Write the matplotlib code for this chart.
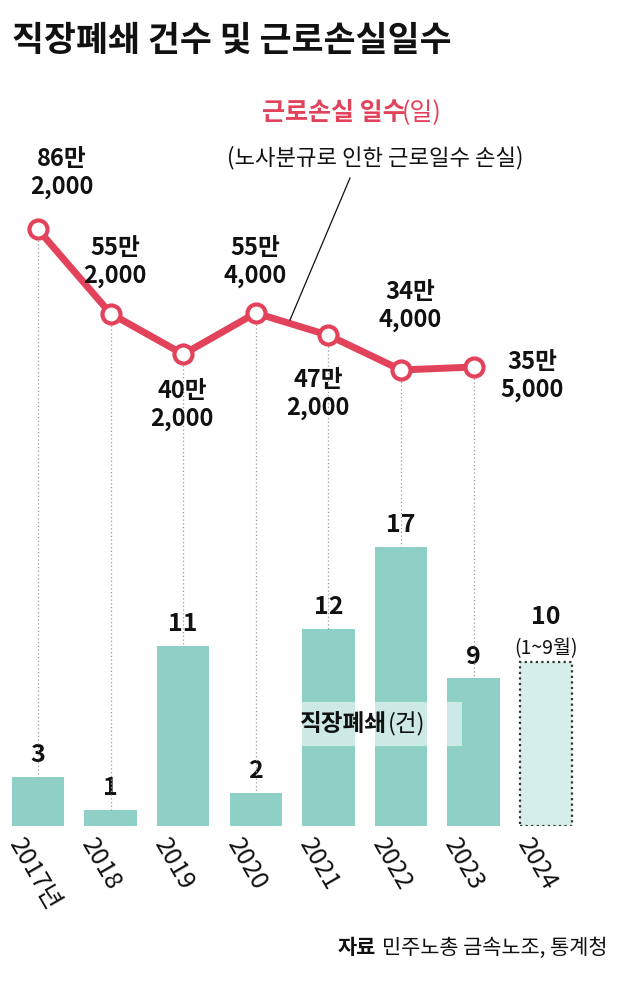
import matplotlib.pyplot as plt

plt.rcParams['font.family'] = ['Noto Sans CJK KR', 'DejaVu Sans']

years = ['2017년', '2018', '2019', '2020', '2021', '2022', '2023', '2024']
closures = [3, 1, 11, 2, 12, 17, 9, 10]
lost_days = [86.2, 55.2, 40.2, 55.4, 47.2, 34.4, 35.5]  # 만 일
lost_labels = ['86만\n2,000', '55만\n2,000', '40만\n2,000', '55만\n4,000',
               '47만\n2,000', '34만\n4,000', '35만\n5,000']
# label positions in pixels (x center, y center)
label_pos = [(62, 173), (115, 262), (182, 405), (255, 262),
             (318, 394), (410, 306), (532, 376)]

W, H = 640, 984
teal = '#8fd0c6'
red = '#e2435b'

fig = plt.figure(figsize=(W / 100, H / 100), dpi=100)
ax = fig.add_axes([0, 1 - 826 / H, 1, 726 / H])
x = list(range(len(years)))
ax.set_xlim(-38 / 72.6, (W - 38) / 72.6)
ax.set_ylim(0, 726 / 16.4)
ax.axis('off')

ax.bar(x[:7], closures[:7], width=0.72, color=teal)
ax.bar(x[7], closures[7], width=0.72, color='#d6eeea', edgecolor='#333333',
       linestyle=(0, (1, 1.5)), linewidth=1.6)
for i, v in enumerate(closures):
    off = 2.0 if i == 7 else 0.6
    ax.text(i, v + off, str(v), ha='center', va='bottom', fontsize=18,
            fontweight='bold', color='#111111')
ax.text(7, 10.15, '(1~9월)', ha='center', va='bottom', fontsize=14,
        color='#111111')

for i, yr in enumerate(years):
    ax.text(i - 0.32, -0.9, yr, rotation=-60, rotation_mode='anchor',
            ha='left', va='center', fontsize=18, color='#111111', clip_on=False)

ax2 = ax.twinx()
ax2.set_ylim(86 - 596 / 2.713, 86 + 130 / 2.713)
ax2.axis('off')
ax2.set_xlim(ax.get_xlim())
for i, v in enumerate(lost_days):
    bar_top = 86 - 596 / 2.713 + closures[i] * 16.4 / 2.713
    ax2.plot([i, i], [v, bar_top], color='#999999', lw=0.9,
             linestyle=(0, (1, 2)))
ax2.plot(x[:7], lost_days, color=red, lw=5, marker='o', markersize=13,
         markerfacecolor='white', markeredgecolor=red, markeredgewidth=3,
         zorder=5)

for lab, (px, py) in zip(lost_labels, label_pos):
    fig.text(px / W, 1 - py / H, lab, ha='center', va='center', fontsize=17,
             fontweight='bold', color='#111111', linespacing=1.2)

fig.text(12 / W, 1 - 40 / H, '직장폐쇄 건수 및 근로손실일수', fontsize=25,
         fontweight='bold', color='#111111', va='center')
fig.text(262 / W, 1 - 113 / H, '근로손실 일수', fontsize=18, fontweight='bold',
         color=red, va='center')
fig.text(402 / W, 1 - 113 / H, '(일)', fontsize=18, color=red, va='center')
fig.text(375 / W, 1 - 158 / H, '(노사분규로 인한 근로일수 손실)', fontsize=16,
         color='#111111', va='center', ha='center')
fig.add_artist(plt.Line2D([350 / W, 290 / W], [1 - 178 / H, 1 - 320 / H],
                          color='#111111', lw=0.9))
fig.patches.append(plt.Rectangle((292 / W, 1 - 746 / H), 170 / W, 44 / H,
                                 transform=fig.transFigure, facecolor='white',
                                 alpha=0.55, edgecolor='none', zorder=3))
fig.text(300 / W, 1 - 724 / H, '직장폐쇄', fontsize=17, fontweight='bold',
         color='#111111', va='center', zorder=4)
fig.text(388 / W, 1 - 724 / H, '(건)', fontsize=17, color='#111111',
         va='center', zorder=4)
fig.text(338 / W, 1 - 948 / H, '자료', fontsize=15, fontweight='bold',
         color='#111111', va='center', ha='left')
fig.text(608 / W, 1 - 948 / H, '민주노총 금속노조, 통계청', fontsize=15,
         color='#111111', va='center', ha='right')

fig.savefig('out.png', dpi=100)
